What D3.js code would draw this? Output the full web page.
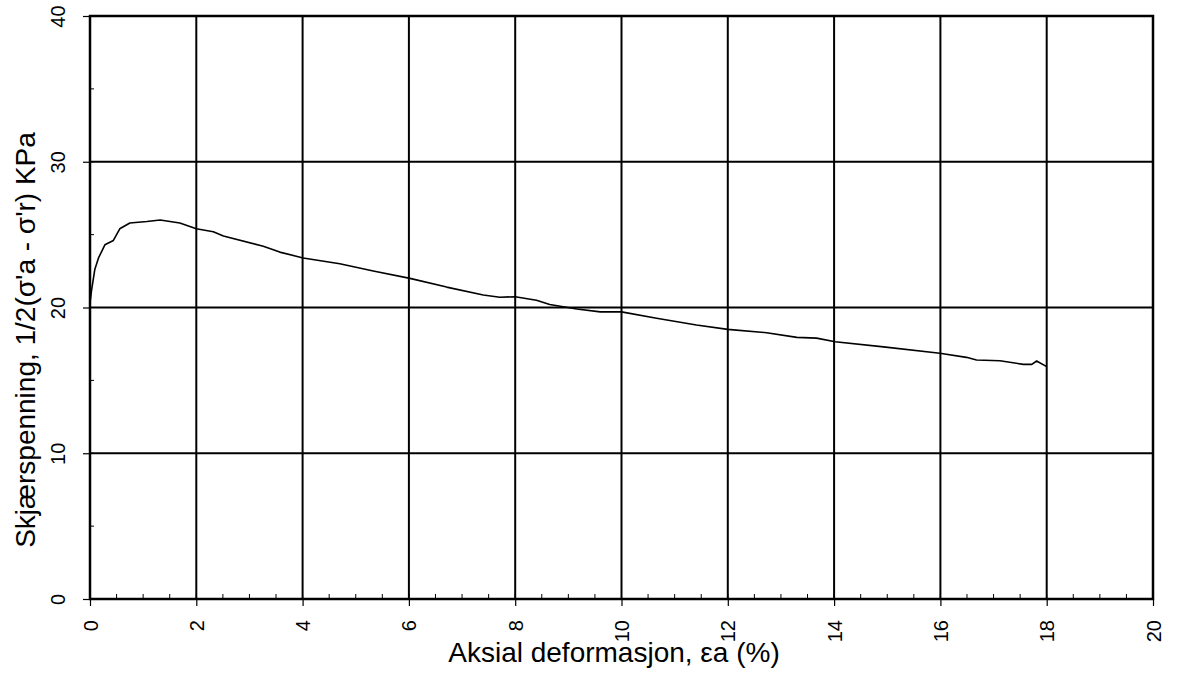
<!DOCTYPE html>
<html>
<head>
<meta charset="utf-8">
<script src="https://cdn.jsdelivr.net/npm/d3@7"></script>
<style>
  html, body { margin: 0; padding: 0; background: #fff; }
  svg { display: block; font-family: "Liberation Sans", Arial, sans-serif; }
</style>
</head>
<body>
<svg id="chart" width="1178" height="673"></svg>
<script>
// Data
const strainPct = [0.0, 0.03, 0.09, 0.16, 0.28, 0.44, 0.56, 0.75, 1.07, 1.32, 1.69, 2.0, 2.32, 2.51,
  3.26, 3.57, 4.01, 4.70, 5.33, 6.02, 6.71, 7.40, 7.71, 8.0, 8.40, 8.65, 9.16, 9.6, 10.0,
  10.66, 11.41, 12.0, 12.73, 13.3, 13.67, 14.02, 14.93, 15.99, 16.49, 16.68, 17.12, 17.56,
  17.72, 17.81, 18.0];
const shearStress = [20.3, 21.2, 22.6, 23.4, 24.3, 24.6, 25.4, 25.8, 25.9, 26.0, 25.8, 25.4, 25.2, 24.9,
  24.2, 23.8, 23.4, 23.0, 22.5, 22.0, 21.4, 20.86, 20.7, 20.74, 20.5, 20.2, 19.9, 19.7, 19.7,
  19.26, 18.8, 18.5, 18.27, 17.95, 17.9, 17.65, 17.3, 16.86, 16.58, 16.4, 16.35, 16.1,
  16.1, 16.33, 15.94];
const xTicks = [0, 2, 4, 6, 8, 10, 12, 14, 16, 18, 20];
const yTicks = [0, 10, 20, 30, 40];
const xMinorTicks = d3.range(0, 20.01, 0.5);
const yMinorTicks = d3.range(0, 40.01, 5);
const xTitle = "Aksial deformasjon, εa (%)";
const yTitle = "Skjærspenning, 1/2(σ'a - σ'r) KPa";

(function () {
const svg = d3.select("#chart");
const pLeft = 90, pRight = 1153, pTop = 16, pBottom = 599;
const x = d3.scaleLinear().domain([0, 20]).range([pLeft, pRight]);
const y = d3.scaleLinear().domain([0, 40]).range([pBottom, pTop]);

// Gridlines
const grid = svg.append("g").attr("stroke", "#000").attr("stroke-width", 2);
grid.selectAll("line.v").data(xTicks).join("line").attr("class", "v")
  .attr("x1", d => x(d)).attr("x2", d => x(d)).attr("y1", pTop).attr("y2", pBottom);
grid.selectAll("line.h").data(yTicks).join("line").attr("class", "h")
  .attr("x1", pLeft).attr("x2", pRight).attr("y1", d => y(d)).attr("y2", d => y(d));

// Minor ticks (inside)
const minor = svg.append("g").attr("stroke", "#000").attr("stroke-width", 1);
minor.selectAll("line.mx").data(xMinorTicks).join("line").attr("class", "mx")
  .attr("x1", d => x(d)).attr("x2", d => x(d)).attr("y1", pBottom).attr("y2", pBottom - 5);
minor.selectAll("line.my").data(yMinorTicks).join("line").attr("class", "my")
  .attr("x1", pLeft).attr("x2", pLeft + 4).attr("y1", d => y(d)).attr("y2", d => y(d));

// Frame
svg.append("rect").attr("x", pLeft).attr("y", pTop).attr("width", pRight - pLeft).attr("height", pBottom - pTop)
  .attr("fill", "none").attr("stroke", "#000").attr("stroke-width", 2.5);

// X axis
const xAxis = svg.append("g").attr("transform", `translate(0,${pBottom})`)
  .call(d3.axisBottom(x).tickValues(xTicks).tickSize(7).tickSizeOuter(0).tickPadding(0));
xAxis.select(".domain").remove();
xAxis.selectAll(".tick line").attr("stroke", "#000").attr("stroke-width", 1.2);
xAxis.selectAll(".tick text")
  .attr("font-size", 20).attr("fill", "#000")
  .attr("text-anchor", "end")
  .attr("transform", "translate(0,21) rotate(-90)")
  .attr("x", 0).attr("y", 0).attr("dy", "0.35em");

// Y axis
const yAxis = svg.append("g").attr("transform", `translate(${pLeft},0)`)
  .call(d3.axisLeft(y).tickValues(yTicks).tickSize(7).tickSizeOuter(0).tickPadding(0));
yAxis.select(".domain").remove();
yAxis.selectAll(".tick line").attr("stroke", "#000").attr("stroke-width", 1.2);
yAxis.selectAll(".tick text")
  .attr("font-size", 20).attr("fill", "#000")
  .attr("text-anchor", "middle")
  .attr("transform", "translate(-25,0) rotate(-90)")
  .attr("x", 0).attr("y", 0).attr("dy", 0);

// Curve
const pts = strainPct.map((d, i) => [d, shearStress[i]]);
svg.append("path").datum(pts)
  .attr("fill", "none").attr("stroke", "#000").attr("stroke-width", 1.6)
  .attr("stroke-linejoin", "round")
  .attr("d", d3.line().x(d => x(d[0])).y(d => y(d[1])));

// Titles
svg.append("text").attr("x", 614).attr("y", 662).attr("text-anchor", "middle")
  .attr("font-size", 28).attr("fill", "#000").text(xTitle);
svg.append("text").attr("transform", "translate(35,340) rotate(-90)").attr("text-anchor", "middle")
  .attr("font-size", 28).attr("fill", "#000").text(yTitle);
})();
</script>
</body>
</html>
